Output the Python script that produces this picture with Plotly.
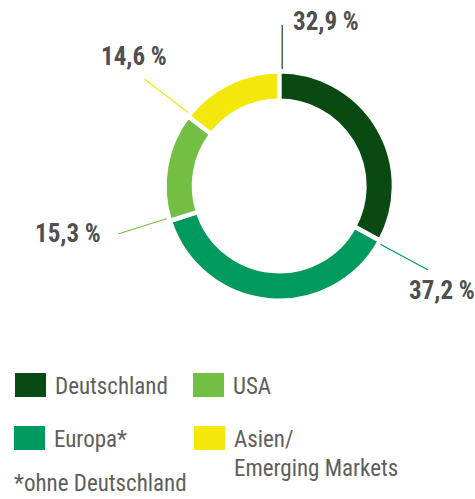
import math
import plotly.graph_objects as go

# ---- data ----
categories = ["Deutschland", "Europa*", "USA", "Asien/<br>Emerging Markets"]
values = [32.9, 37.2, 15.3, 14.6]
value_labels = ["32,9 %", "37,2 %", "15,3 %", "14,6 %"]
colors = ["#084a12", "#009a5e", "#72bf44", "#f4e80a"]
legend_names = ["Deutschland", "USA", "Europa*", "Asien/", "Emerging Markets"]
footnote = "*ohne Deutschland"

# ---- style / geometry ----
W, H = 475, 499
CX, CY = 279.2, 186.0          # donut centre (px)
R_VIS = 112.5                   # visible outer radius
GAP = 4.5                       # white separator width
R = R_VIS + GAP / 2
HOLE = (87.5 - GAP / 2) / R
leader_r = [161, 171, 168, 172]
label_off = [(9, -4, "left"), (14, 20, "center"), (-15, -1, "right"), (-10, -23, "center")]
FAM = "Roboto Condensed, DejaVu Sans Condensed, sans-serif"
LABEL_FONT = dict(family=FAM, size=25, color="#4f4f4f")
TEXT_FONT = dict(family=FAM, size=23, color="#5e5e5e")

fig = go.Figure()

fig.add_trace(go.Pie(
    labels=categories, values=values, sort=False, direction="clockwise", rotation=0,
    hole=HOLE, textinfo="none", hoverinfo="skip", showlegend=False,
    marker=dict(colors=colors, line=dict(color="white", width=GAP)),
    domain=dict(x=[(CX - R) / W, (CX + R) / W], y=[(H - CY - R) / H, (H - CY + R) / H]),
))

# leader lines from slice start angles
total = sum(values)
cum = 0.0
annotations = []
for i, v in enumerate(values):
    th = 2 * math.pi * cum / total
    cum += v
    dx, dy = math.sin(th), -math.cos(th)
    tx, ty = math.cos(th), math.sin(th)
    off = 3.0
    x0 = CX + R_VIS * dx + off * tx
    y0 = CY + R_VIS * dy + off * ty
    x1 = CX + leader_r[i] * dx + off * tx
    y1 = CY + leader_r[i] * dy + off * ty
    fig.add_trace(go.Scatter(x=[x0, x1], y=[y0, y1], mode="lines",
                             line=dict(color=colors[i], width=1.2),
                             hoverinfo="skip", showlegend=False))
    ox, oy, anc = label_off[i]
    annotations.append(dict(x=x1 + ox, y=y1 + oy, xref="x", yref="y", text="<b>%s</b>" % value_labels[i],
                            showarrow=False, xanchor=anc, yanchor="middle", font=LABEL_FONT))

# legend (manual)
shapes = []
legend_items = [
    (colors[0], 15, 373, legend_names[0]),
    (colors[2], 193, 373, legend_names[1]),
    (colors[1], 14, 426, legend_names[2]),
    (colors[3], 194, 426, legend_names[3]),
]
for col, x, y, name in legend_items:
    shapes.append(dict(type="rect", xref="x", yref="y", x0=x, x1=x + 31, y0=y, y1=y + 24,
                       fillcolor=col, line=dict(width=0)))
    annotations.append(dict(x=x + 38, y=y + 13, xref="x", yref="y", text=name, showarrow=False,
                            xanchor="left", yanchor="middle", font=TEXT_FONT))
annotations.append(dict(x=232, y=468, xref="x", yref="y", text=legend_names[4], showarrow=False,
                        xanchor="left", yanchor="middle", font=TEXT_FONT))
annotations.append(dict(x=12, y=483, xref="x", yref="y", text=footnote, showarrow=False,
                        xanchor="left", yanchor="middle", font=TEXT_FONT))

fig.update_layout(
    width=W, height=H, margin=dict(l=0, r=0, t=0, b=0),
    paper_bgcolor="white", plot_bgcolor="rgba(0,0,0,0)",
    xaxis=dict(range=[0, W], visible=False, fixedrange=True, domain=[0, 1]),
    yaxis=dict(range=[H, 0], visible=False, fixedrange=True, domain=[0, 1]),
    shapes=shapes, annotations=annotations, showlegend=False,
)

fig.write_html("out.html", config={"displayModeBar": False},
               post_script="document.body.style.margin='0';")
